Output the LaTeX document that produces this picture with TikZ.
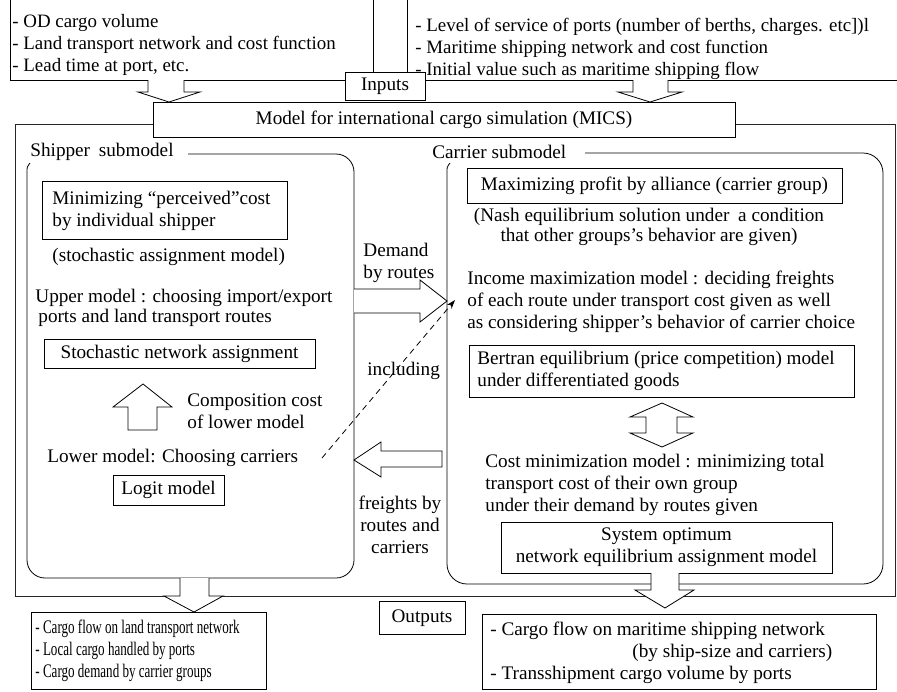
\documentclass[tikz,border=0pt]{standalone}
\usepackage{fontspec}
\setmainfont{Liberation Serif}
\newfontfamily\condfont[FakeStretch=0.68]{Liberation Serif}
\usetikzlibrary{arrows.meta}
\begin{document}
\begin{tikzpicture}[x=1pt,y=-1pt,line width=0.8pt,
  every node/.style={font=\fontsize{19.2}{22}\selectfont,inner sep=0pt},
  frame/.style={draw,rectangle,inner sep=0pt},
  lt/.style={anchor=west,align=left},
  ct/.style={align=center},
  hollow/.style={draw,fill=white,line join=miter},
  dashlink/.style={dashed,dash pattern=on 6pt off 4.5pt,-{Stealth[length=9pt,width=6pt]}}]
\useasboundingbox (0,0) rectangle (897,691);

% ---------- top input boxes ----------
\draw (10,-3) rectangle (373,80);
\node[lt,font=\fontsize{18.9}{22}\selectfont] (inL) at (12,45) {- OD cargo volume\\- Land transport network and cost function\\- Lead time at port, etc.};
\draw (407,-3) rectangle (900,80);
\node[lt,font=\fontsize{18.9}{22}\selectfont] (inR) at (415,49) {- Level of service of ports (number of berths, charges. etc])l\\- Maritime shipping network and cost function\\- Initial value such as maritime shipping flow};

% input arrows
\draw[hollow] (148,80) -- (148,92) -- (138,92) -- (169,102) -- (200,92) -- (184,92) -- (184,80);
\draw[hollow] (633,80) -- (633,92) -- (618,92) -- (650,102) -- (682,92) -- (668,92) -- (668,80);

% outer frame
\draw[black!85] (153,124) -- (15,124) -- (15,596) -- (895,596) -- (895,124) -- (735,124);

% Inputs label and MICS
\node[frame,fill=white,minimum width=80,minimum height=28] (inputs) at (385,86) {Inputs};
\node[frame,fill=white,minimum width=582,minimum height=35] (mics) at (444,119.5) {Model for international cargo simulation (MICS)};

% ---------- shipper submodel ----------
\node[lt] (shiplab) at (30,152) {Shipper\hspace{4pt} submodel};
\draw[rounded corners=18] (188,154) -- (354,154) -- (354,578) -- (27,578) -- (27,172);
\draw (27,172) .. controls (27,167) .. (30,163);

\node[frame,minimum width=245,minimum height=58] (minbox) at (164.5,210) {};
\node[lt] (mintxt) at (52,211) {Minimizing “perceived”cost\\by individual shipper};
\node[lt] (stoch) at (52,257) {(stochastic assignment model)};
\node[lt] (upper) at (35,298) {Upper model : choosing import/export};
\node[lt] (upper2) at (38,318) {ports and land transport routes};
\node[frame,minimum width=271,minimum height=29] (sna) at (179.5,353.5) {Stochastic network assignment};
\draw[hollow] (128,430) -- (128,407) -- (113,407) -- (143,384) -- (172,407) -- (157,407) -- (157,430) -- cycle;
\node[lt] (comp) at (187,411) {Composition cost\\of lower model};
\node[lt] (lower) at (47,458) {Lower model: Choosing carriers};
\node[frame,minimum width=111,minimum height=30] (logit) at (168.5,490) {Logit model};

% ---------- between ----------
\draw[hollow] (354,289) -- (420,289) -- (420,280) -- (447,301) -- (420,322) -- (420,313) -- (354,313);
\node[lt] (demand) at (363,262.5) {Demand\\by routes};
\node[lt] (incl) at (367,371) {including};
\coordinate (dstart) at (322,458);
\coordinate (dend) at (455,300);
\draw[dashlink] (dstart) -- (dend);
\draw[hollow] (442,451) -- (381,451) -- (381,442) -- (354,460) -- (381,477) -- (381,467) -- (442,467) -- cycle;
\node[ct] (freights) at (400,525) {freights by\\routes and\\carriers};

% ---------- carrier submodel ----------
\node[lt] (carlab) at (432,152) {Carrier submodel};
\draw[rounded corners=20] (585,153) -- (883,153) -- (883,584) -- (447,584) -- (447,172);
\draw (447,172) .. controls (447,167) .. (450,163);

\node[frame,minimum width=375,minimum height=35] (maxbox) at (654.5,185.5) {Maximizing profit by alliance (carrier group)};
\node[ct,font=\fontsize{19.2}{20.5}\selectfont] (nash) at (649,227) {(Nash equilibrium solution under\hspace{4pt} a condition\\that other groups’s behavior are given)};
\node[lt] (income) at (467,302) {Income maximization model : deciding freights\\of each route under transport cost given as well\\as considering shipper’s behavior of carrier choice};
\node[frame,minimum width=385,minimum height=52] (bertran) at (661.5,371) {};
\node[lt] (bertxt) at (477,371) {Bertran equilibrium (price competition) model\\under differentiated goods};
\draw[hollow] (662,403) -- (693,417) -- (677,417) -- (677,433) -- (693,433) -- (662,447) -- (630,433) -- (646,433) -- (646,417) -- (630,417) -- cycle;
\node[lt] (costmin) at (485,485) {Cost minimization model : minimizing total\\transport cost of their own group\\under their demand by routes given};
\node[frame,minimum width=331,minimum height=51,ct] (sysopt) at (666.5,547.5) {System optimum\\network equilibrium assignment model};

% ---------- outputs ----------
\draw[hollow] (180,578) -- (180,596) -- (164,596) -- (194,612) -- (223,596) -- (209,596) -- (209,578);
\draw[hollow] (651,573) -- (651,590) -- (635,590) -- (665,608) -- (694,590) -- (679,590) -- (679,573);
\node[frame,minimum width=86,minimum height=33] (outputs) at (422,618) {Outputs};
\node[frame,minimum width=235,minimum height=77] (outL) at (148.5,651) {};
\node[lt,font=\condfont\fontsize{19.2}{22}\selectfont] (outLt) at (35,651) {- Cargo flow on land transport network\\- Local cargo handled by ports\\- Cargo demand by carrier groups};
\node[frame,minimum width=394,minimum height=75] (outR) at (679,652) {};
\node[lt] (outRt) at (490,653) {- Cargo flow on maritime shipping network\\\hspace*{142pt}(by ship-size and carriers)\\- Transshipment cargo volume by ports};
\end{tikzpicture}
\end{document}
